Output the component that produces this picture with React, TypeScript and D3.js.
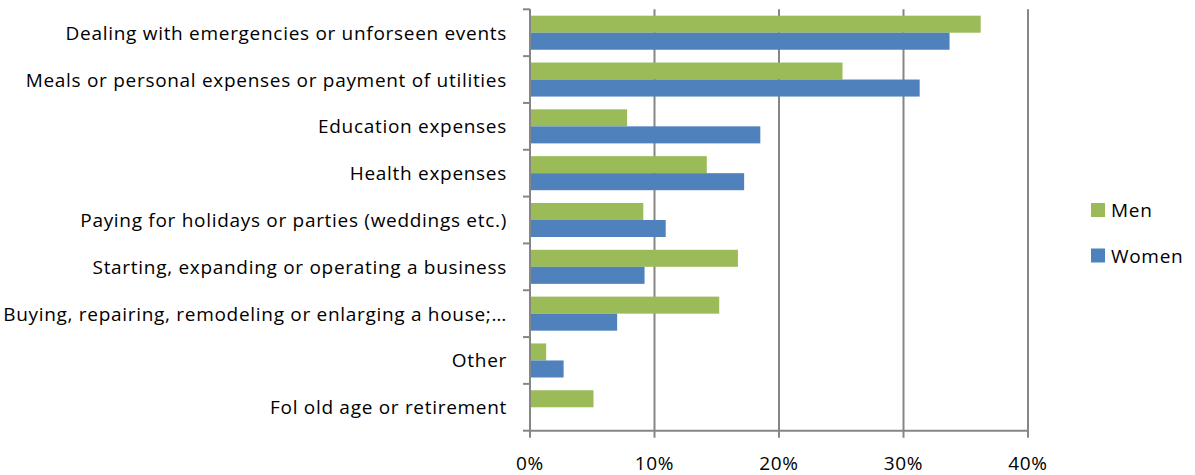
import React from "react";
import * as d3 from "d3";

const categories = [
  "Dealing with emergencies or unforseen events",
  "Meals or personal expenses or payment of utilities",
  "Education expenses",
  "Health expenses",
  "Paying for holidays or parties (weddings etc.)",
  "Starting, expanding or operating a business",
  "Buying, repairing, remodeling or enlarging a house;…",
  "Other",
  "Fol old age or retirement",
];
const menValues = [36.2, 25.1, 7.8, 14.2, 9.1, 16.7, 15.2, 1.3, 5.1];
const womenValues = [33.7, 31.3, 18.5, 17.2, 10.9, 9.2, 7.0, 2.7, 0];
const xTicks = [0, 10, 20, 30, 40];
const seriesNames = ["Men", "Women"];
const seriesColors = ["#9BBB59", "#4F81BD"];

const W = 1195;
const H = 475;
const left = 530;
const right = 1028;
const top = 9.3;
const bottom = 430.7;
const FONT = "'Open Sans', 'Noto Sans', sans-serif";
const FS = 19;
const LS = 0.7;

export default function App() {
  const x = d3.scaleLinear().domain([0, 40]).range([left, right]);
  const y = d3.scaleBand().domain(categories).range([top, bottom]).paddingInner(0).paddingOuter(0);
  const bw = y.bandwidth();
  const barH = bw / (2 + 0.75);
  const gap = (bw - 2 * barH) / 2;
  const series = [menValues, womenValues];
  const grid = "#868686";

  return (
    <svg width={W} height={H} style={{ position: "absolute", left: 0, top: 0, background: "#fff" }}>
      {xTicks.map((t) => (
        <line key={"g" + t} x1={x(t)} x2={x(t)} y1={top} y2={bottom + 7} stroke={grid} strokeWidth={2} />
      ))}
      <line x1={left} x2={right} y1={bottom} y2={bottom} stroke={grid} strokeWidth={2} />
      {d3.range(categories.length + 1).map((i) => (
        <line key={"t" + i} x1={left - 7} x2={left} y1={top + i * bw} y2={top + i * bw} stroke={grid} strokeWidth={2} />
      ))}
      {categories.map((c, i) =>
        series.map((vals, s) => (
          <rect
            key={c + s}
            x={x(0)}
            y={(y(c) as number) + gap + s * barH}
            width={x(vals[i]) - x(0)}
            height={barH}
            fill={seriesColors[s]}
          />
        ))
      )}
      <line x1={left} x2={left} y1={top} y2={bottom} stroke={grid} strokeWidth={2} />
      {categories.map((c) => (
        <text
          key={"l" + c}
          x={507}
          y={(y(c) as number) + bw / 2}
          textAnchor="end"
          dominantBaseline="central"
          fontFamily={FONT}
          fontSize={FS}
          letterSpacing={LS}
          fill="#000"
        >
          {c}
        </text>
      ))}
      {xTicks.map((t) => (
        <text
          key={"x" + t}
          x={x(t)}
          y={463}
          textAnchor="middle"
          dominantBaseline="central"
          fontFamily={FONT}
          fontSize={FS}
          letterSpacing={LS}
          fill="#000"
        >
          {t + "%"}
        </text>
      ))}
      {seriesNames.map((n, i) => (
        <g key={n} transform={`translate(1091, ${203 + i * 45.5})`}>
          <rect x={0} y={0} width={14} height={14} fill={seriesColors[i]} />
          <text x={20} y={7} dominantBaseline="central" fontFamily={FONT} fontSize={FS} letterSpacing={LS} fill="#000">
            {n}
          </text>
        </g>
      ))}
    </svg>
  );
}
